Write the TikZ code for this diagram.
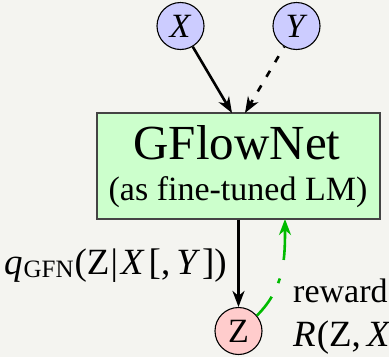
\documentclass[tikz,border=0pt]{standalone}
\usepackage{fontspec}
\setmainfont{Liberation Serif}
\usetikzlibrary{arrows.meta}
\definecolor{bg}{HTML}{F4F4F0}
\definecolor{varfill}{HTML}{CCCCFF}
\definecolor{zfill}{HTML}{FFCCCC}
\definecolor{boxfill}{HTML}{CCFFCC}
\definecolor{boxline}{HTML}{444444}
\definecolor{rewgreen}{HTML}{00BB00}
\begin{document}
\begin{tikzpicture}[x=1pt,y=1pt,
  basefont/.style={font=\fontsize{34}{40}\selectfont},
  mathfont/.style={font=\fontsize{37}{42}\selectfont},
  var/.style={circle,draw=black,line width=1.1pt,minimum size=47pt,inner sep=0pt,basefont},
  gbox/.style={rectangle,draw=boxline,line width=1.4pt,fill=boxfill,minimum width=283pt,minimum height=106pt,inner sep=0pt},
  arr/.style={line width=2.6pt,-{Stealth[length=16pt,width=12pt,inset=5pt]}},
  dotarr/.style={arr,dash pattern=on 7pt off 10pt,dash phase=6pt},
  rewarr/.style={line width=2.6pt,draw=rewgreen,-{Stealth[length=16pt,width=12pt,inset=5pt,fill=rewgreen]},
    dash pattern=on 24pt off 15pt on 5pt off 19pt on 200pt}
]
\useasboundingbox (0,0) rectangle (389,-357);
\clip (0,0) rectangle (389,-357);
\fill[bg] (0,0) rectangle (389,-357);

\node[var,fill=varfill] (x) at (180.5,-26) {\textit{X}};
\node[var,fill=varfill] (y) at (296.5,-26) {\textit{Y}};
\node[gbox] (g) at (238.5,-166) {};
\node[anchor=base,font=\fontsize{49}{55}\selectfont] (gt) at (237,-159) {GFlowNet};
\node[anchor=base,basefont] (gs) at (238,-200) {(as fine-tuned LM)};
\node[var,fill=zfill] (z) at (238.5,-331) {Z};

\coordinate (gx) at (232,-113);
\coordinate (gy) at (245,-113);
\coordinate (gr) at (285,-219);

\draw[arr] (x) -- (gx);
\draw[dotarr] (y) -- (gy);
\draw[arr] (g) -- (z);
\draw[rewarr] (z.40) to[out=45,in=-90] (gr);

\node[anchor=base east,mathfont,inner sep=0pt] (ql) at (227,-274)
  {\textit{q}\kern1pt\raisebox{-3pt}{\fontsize{25}{25}\selectfont GFN}\kern1pt(Z\kern1pt|\kern3pt\textit{X}\kern4pt[,\kern6pt\textit{Y}\kern2pt])};
\node[anchor=base west,basefont,inner sep=0pt] (rw) at (293,-302) {reward};
\node[anchor=base west,mathfont,inner sep=0pt] (rr) at (293,-346) {\textit{R}\kern1pt(Z,\kern6pt\textit{X}};
\end{tikzpicture}
\end{document}
